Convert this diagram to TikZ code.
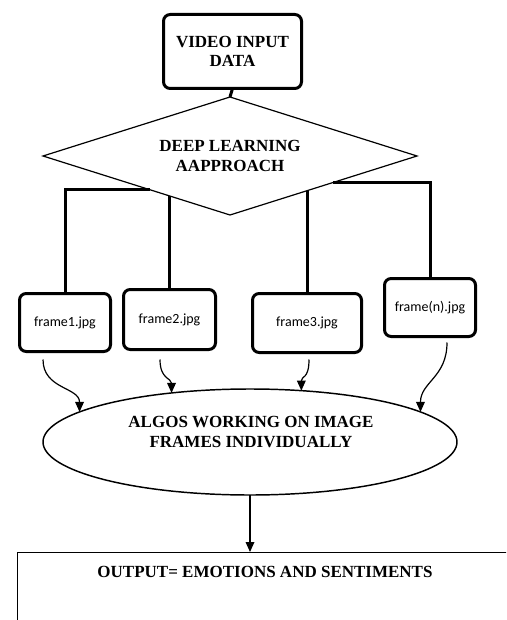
\documentclass[tikz,border=0pt]{standalone}
\usepackage{fontspec}
\setmainfont{Liberation Serif}
\newfontfamily\titlefont{Liberation Serif}
\newfontfamily\framefont{Carlito}
\usetikzlibrary{shapes.geometric,arrows.meta,calc}

\tikzset{
  thickbox/.style={draw, line width=2.25pt, rounded corners=5pt, inner sep=0pt, outer sep=0pt},
  bigtext/.style={font=\titlefont\bfseries\fontsize{12.75}{14.5}\selectfont, align=center},
  frametext/.style={font=\framefont\fontsize{10.5}{12}\selectfont},
  link/.style={line width=2.25pt},
  flow/.style={line width=0.9pt, -{Triangle[length=7.5pt,width=6.5pt]}}
}

\begin{document}
\begin{tikzpicture}[x=0.75pt,y=0.75pt,yscale=-1,xscale=1]
	%set diagram left start at 0, and has height of 620
	\useasboundingbox (0,0) rectangle (506,620);
	\clip (0,0) rectangle (506,620);
	
	%Shape: Rounded Rect
	\node [thickbox, bigtext, minimum width=103.5pt, minimum height=55.5pt] (video) at (232.5,51.5) {VIDEO INPUT\\DATA};
	%Shape: Diamond
	\node [diamond, aspect=3.17, draw, line width=0.9pt, inner sep=0pt, outer sep=0pt, minimum width=280.5pt, minimum height=88.5pt, bigtext] (deep) at (230,156) {DEEP LEARNING\\AAPPROACH};
	
	%Shape: Rounded Rect
	\node [thickbox, frametext, minimum width=68.25pt, minimum height=43.5pt] (frame1) at (65,322.5) {frame1.jpg};
	%Shape: Rounded Rect
	\node [thickbox, frametext, minimum width=69pt, minimum height=45pt] (frame2) at (169.5,319.5) {frame2.jpg};
	%Shape: Rounded Rect
	\node [thickbox, frametext, minimum width=81.75pt, minimum height=44.25pt] (frame3) at (307,323) {frame3.jpg};
	%Shape: Rounded Rect
	\node [thickbox, frametext, minimum width=68.25pt, minimum height=43.5pt] (framen) at (430,307.5) {frame(n).jpg};
	
	%Shape: Ellipse
	\node [ellipse, draw, line width=1.1pt, inner sep=0pt, outer sep=0pt, minimum width=310.5pt, minimum height=79.5pt] (algos) at (250,442) {};
	% Text Node
	\node [bigtext] (algostext) at (251,432) {ALGOS WORKING ON IMAGE\\FRAMES INDIVIDUALLY};
	
	%Shape: Rectangle
	\node [draw, line width=0.75pt, inner sep=0pt, outer sep=0pt, minimum width=390pt, minimum height=81pt] (output) at (277,606) {};
	% Text Node
	\node [bigtext] (outtext) at (265,572) {OUTPUT= EMOTIONS AND SENTIMENTS};
	
	%Straight Lines
	\draw [link] (video.south) -- (deep.north) ;
	\coordinate (d1) at ($(deep.west)!0.57!(deep.south)$);
	\coordinate (d2) at ($(deep.west)!0.674!(deep.south)$);
	\coordinate (d3) at ($(deep.south)!0.41!(deep.east)$);
	\coordinate (d4) at ($(deep.south)!0.552!(deep.east)$);
	\draw [link] (frame1.north) |- (d1) ;
	\draw [link] (frame2.north) -- (frame2.north |- d2) ;
	\draw [link] (frame3.north) -- (frame3.north |- d3) ;
	\draw [link] (framen.north) |- (d4) ;
	
	%Curve Lines
	\coordinate (s1) at ($(frame1.south)+(-22,8)$);
	\coordinate (s2) at ($(frame2.south)+(-9.5,10)$);
	\coordinate (s3) at ($(frame3.south)+(2,7)$);
	\coordinate (s4) at ($(framen.south)+(17,6)$);
	\draw [flow] (s1) .. controls +(0,30) and +(0,-25) .. (algos.170) ;
	\draw [flow] (s2) .. controls +(0,20) and +(0,-15) .. (algos.148) ;
	\draw [flow] (s3) .. controls +(0,20) and +(0,-15) .. (algos.45) ;
	\draw [flow] (s4) .. controls +(0,35) and +(0,-30) .. (algos.10) ;
	
	%Straight Lines
	\draw [flow] (algos.south) -- (algos.south |- output.north) ;
	
\end{tikzpicture}
\end{document}
